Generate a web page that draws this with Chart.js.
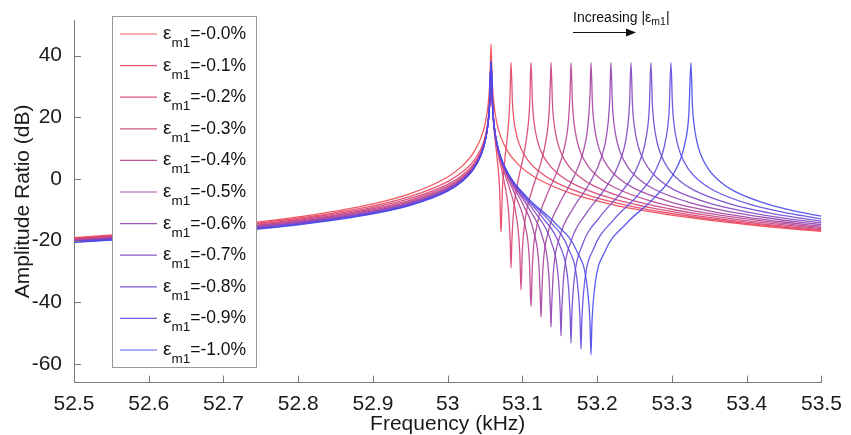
<!DOCTYPE html>
<html>
<head>
<meta charset="utf-8">
<script src="https://cdn.jsdelivr.net/npm/chart.js@4"></script>
<style>
  html, body { margin: 0; padding: 0; background: #fff; }
</style>
</head>
<body>
<canvas id="myChart" width="851" height="435"></canvas>
<script>
// Legend labels (strain ε_m1) and axis ticks
const strainLabels = ['-0.0%', '-0.1%', '-0.2%', '-0.3%', '-0.4%', '-0.5%', '-0.6%', '-0.7%', '-0.8%', '-0.9%', '-1.0%'];
const freqTicks = [52.5, 52.6, 52.7, 52.8, 52.9, 53, 53.1, 53.2, 53.3, 53.4, 53.5];
const ampTicks = [-60, -40, -20, 0, 20, 40];

// [frequency kHz, amplitude ratio dB]
const eps00 = [[52.5,-19.01],[52.6,-17.30],[52.7,-15.16],[52.8,-12.31],[52.9,-8.05],[52.95,-4.75],[53.0,0.65],[53.02,4.33],[53.035,8.69],[53.045,13.64],[53.05,17.86],[53.054,23.88],[53.056,29.9],[53.057,35.9],
  [53.058,43.8],
  [53.059,35.9],[53.06,29.9],[53.062,23.88],[53.066,17.86],[53.071,13.64],[53.081,8.69],[53.096,4.33],[53.116,0.65],[53.166,-4.75],[53.216,-8.05],[53.266,-10.44],[53.316,-12.31],[53.366,-13.85],[53.416,-15.16],[53.466,-16.29],[53.5,-16.99]];

const eps01 = [[52.5,-19.21],[52.6,-17.54],[52.7,-15.47],[52.8,-12.73],[52.9,-8.70],[52.95,-5.65],[53.0,-0.84],[53.02,2.32],[53.035,5.97],[53.045,10.08],[53.05,13.64],[53.054,18.92],[53.056,24.46],
  [53.058,38.0],
  [53.0588,31.54],[53.0601,22.51],[53.0628,14.10],[53.0666,5.73],[53.0695,-3.50],[53.0708,-14.54],[53.0714,-17.1],[53.0719,-14.54],[53.0732,-3.50],[53.0762,5.73],[53.0799,14.10],[53.0826,22.51],[53.0839,31.54],
  [53.0847,37.7],
  [53.0867,24.46],[53.0887,18.92],[53.0927,13.64],[53.0977,10.08],[53.1077,5.97],[53.1227,2.32],[53.1427,-0.84],[53.1927,-5.65],[53.2427,-8.70],[53.2927,-10.95],[53.3427,-12.73],[53.3927,-14.20],[53.4427,-15.47],[53.5,-16.71]];

const eps02 = [[52.5,-19.40],[52.6,-17.76],[52.7,-15.74],[52.8,-13.09],[52.9,-9.23],[52.95,-6.32],[53.0,-1.73],[53.02,1.32],[53.035,4.95],[53.045,9.17],[53.05,12.90],[53.054,18.44],[53.056,24.19],
  [53.058,38.0],
  [53.0585,35.25],[53.0596,25.52],[53.0623,16.49],[53.0676,8.08],[53.0751,-0.29],[53.0810,-9.52],[53.0837,-20.56],[53.0847,-28.8],[53.0858,-20.56],[53.0885,-9.52],[53.0944,-0.29],[53.1019,8.08],[53.1072,16.49],[53.1099,25.52],[53.1109,35.25],
  [53.1115,37.7],
  [53.1135,24.19],[53.1155,18.44],[53.1195,12.90],[53.1245,9.17],[53.1345,4.95],[53.1495,1.32],[53.1695,-1.73],[53.2195,-6.32],[53.2695,-9.23],[53.3195,-11.38],[53.3695,-13.09],[53.4195,-14.52],[53.4695,-15.74],[53.5,-16.41]];

const eps03 = [[52.5,-19.58],[52.6,-17.97],[52.7,-15.99],[52.8,-13.41],[52.9,-9.65],[52.95,-6.83],[53.0,-2.32],[53.02,0.73],[53.035,4.41],[53.045,8.76],[53.05,12.59],[53.054,18.26],[53.056,24.08],
  [53.058,38.0],
  [53.0588,31.73],[53.0604,22.0],[53.0644,12.97],[53.0724,4.56],[53.0837,-3.81],[53.0925,-13.04],[53.0965,-24.08],[53.0981,-36],[53.0997,-24.08],[53.1037,-13.04],[53.1126,-3.81],[53.1238,4.56],[53.1318,12.97],[53.1358,22.0],[53.1374,31.73],
  [53.1382,37.7],
  [53.1402,24.08],[53.1422,18.26],[53.1462,12.59],[53.1512,8.76],[53.1612,4.41],[53.1762,0.73],[53.1962,-2.32],[53.2462,-6.83],[53.2962,-9.65],[53.3462,-11.74],[53.3962,-13.41],[53.45,-14.89],[53.5,-16.08]];

const eps04 = [[52.5,-19.74],[52.6,-18.16],[52.7,-16.22],[52.8,-13.69],[52.9,-10.01],[52.95,-7.23],[53.0,-2.75],[53.02,0.33],[53.035,4.08],[53.045,8.51],[53.05,12.42],[53.054,18.17],[53.056,24.03],
  [53.058,38.0],
  [53.0591,29.23],[53.0612,19.5],[53.0666,10.47],[53.0773,2.06],[53.0922,-6.31],[53.1040,-15.54],[53.1093,-26.58],[53.1109,-38.64],[53.1115,-41.2],[53.1120,-38.64],[53.1136,-26.58],[53.1190,-15.54],[53.1307,-6.31],[53.1457,2.06],[53.1564,10.47],[53.1618,19.5],[53.1639,29.23],
  [53.1650,37.7],
  [53.167,24.03],[53.169,18.17],[53.173,12.42],[53.178,8.51],[53.188,4.08],[53.203,0.33],[53.223,-2.75],[53.273,-7.23],[53.323,-10.01],[53.373,-12.06],[53.423,-13.69],[53.465,-14.85],[53.5,-15.70]];

const eps05 = [[52.5,-19.89],[52.6,-18.34],[52.7,-16.43],[52.8,-13.94],[52.9,-10.31],[52.95,-7.56],[53.0,-3.07],[53.02,0.04],[53.035,3.85],[53.045,8.36],[53.05,12.32],[53.054,18.11],[53.056,24.0],
  [53.058,38.0],
  [53.0593,27.29],[53.0620,17.56],[53.0687,8.53],[53.0821,0.12],[53.1008,-8.25],[53.1155,-17.48],[53.1222,-28.52],[53.1242,-40.58],[53.1249,-44.7],[53.1255,-40.58],[53.1275,-28.52],[53.1342,-17.48],[53.1489,-8.25],[53.1676,0.12],[53.1810,8.53],[53.1877,17.56],[53.1904,27.29],
  [53.1917,37.7],
  [53.1937,24.0],[53.1957,18.11],[53.1997,12.32],[53.2047,8.36],[53.2147,3.85],[53.2297,0.04],[53.2497,-3.07],[53.2997,-7.56],[53.3497,-10.31],[53.3997,-12.33],[53.4497,-13.94],[53.5,-15.28]];

const eps06 = [[52.5,-20.04],[52.6,-18.50],[52.7,-16.62],[52.8,-14.16],[52.9,-10.57],[52.95,-7.83],[53.0,-3.32],[53.02,-0.17],[53.035,3.69],[53.045,8.25],[53.05,12.24],[53.054,18.07],[53.056,23.98],
  [53.058,38.0],
  [53.0596,25.71],[53.0628,15.98],[53.0708,6.95],[53.0869,-1.46],[53.1093,-9.83],[53.1270,-19.06],[53.1350,-30.10],[53.1374,-42.16],[53.1382,-48],[53.1390,-42.16],[53.1414,-30.10],[53.1495,-19.06],[53.1671,-9.83],[53.1896,-1.46],[53.2056,6.95],[53.2136,15.98],[53.2168,25.71],
  [53.2184,37.7],
  [53.2204,23.98],[53.2224,18.07],[53.2264,12.24],[53.2314,8.25],[53.2414,3.69],[53.2564,-0.17],[53.2764,-3.32],[53.3264,-7.83],[53.3764,-10.57],[53.4264,-12.57],[53.4764,-14.16],[53.5,-14.81]];

const eps07 = [[52.5,-20.18],[52.6,-18.66],[52.7,-16.79],[52.8,-14.36],[52.9,-10.80],[52.95,-8.06],[53.0,-3.52],[53.02,-0.34],[53.035,3.57],[53.045,8.17],[53.05,12.19],[53.054,18.04],[53.056,23.97],
  [53.058,38.0],
  [53.0599,24.37],[53.0636,14.64],[53.0730,5.61],[53.0917,-2.80],[53.1179,-11.17],[53.1385,-20.40],[53.1478,-31.44],[53.1507,-43.50],[53.1516,-50.9],[53.1525,-43.50],[53.1553,-31.44],[53.1647,-20.40],[53.1853,-11.17],[53.2115,-2.80],[53.2302,5.61],[53.2396,14.64],[53.2433,24.37],
  [53.2452,37.7],
  [53.2472,23.97],[53.2492,18.04],[53.2532,12.19],[53.2582,8.17],[53.2682,3.57],[53.2832,-0.34],[53.3032,-3.52],[53.3532,-8.06],[53.4032,-10.80],[53.45,-12.68],[53.5,-14.27]];

const eps08 = [[52.5,-20.31],[52.6,-18.80],[52.7,-16.96],[52.8,-14.54],[52.9,-11.00],[52.95,-8.25],[53.0,-3.69],[53.02,-0.47],[53.035,3.47],[53.045,8.11],[53.05,12.15],[53.054,18.02],[53.056,23.96],
  [53.058,38.0],
  [53.0601,23.21],[53.0644,13.48],[53.0751,4.45],[53.0965,-3.96],[53.1265,-12.33],[53.1500,-21.56],[53.1607,-32.60],[53.1639,-44.66],[53.1650,-53.2],[53.1660,-44.66],[53.1692,-32.60],[53.1799,-21.56],[53.2035,-12.33],[53.2334,-3.96],[53.2548,4.45],[53.2655,13.48],[53.2698,23.21],
  [53.2719,37.7],
  [53.2739,23.96],[53.2759,18.02],[53.2799,12.15],[53.2849,8.11],[53.2949,3.47],[53.3099,-0.47],[53.3299,-3.69],[53.3799,-8.25],[53.4299,-11.00],[53.465,-12.44],[53.5,-13.65]];

const eps09 = [[52.5,-20.43],[52.6,-18.94],[52.7,-17.11],[52.8,-14.71],[52.9,-11.17],[52.95,-8.42],[53.0,-3.83],[53.02,-0.58],[53.035,3.39],[53.045,8.05],[53.05,12.11],[53.054,18.0],[53.056,23.95],
  [53.058,38.0],
  [53.0604,22.19],[53.0652,12.46],[53.0773,3.43],[53.1013,-4.98],[53.1350,-13.35],[53.1615,-22.58],[53.1735,-33.62],[53.1771,-45.68],[53.1783,-55.1],[53.1795,-45.68],[53.1831,-33.62],[53.1952,-22.58],[53.2216,-13.35],[53.2553,-4.98],[53.2794,3.43],[53.2914,12.46],[53.2963,22.19],
  [53.2987,37.7],
  [53.3007,23.95],[53.3027,18.0],[53.3067,12.11],[53.3117,8.05],[53.3217,3.39],[53.3367,-0.58],[53.3567,-3.83],[53.4067,-8.42],[53.4567,-11.17],[53.5,-12.92]];

const eps10 = [[52.5,-20.55],[52.6,-19.07],[52.7,-17.25],[52.8,-14.86],[52.9,-11.33],[52.95,-8.57],[53.0,-3.94],[53.02,-0.68],[53.035,3.33],[53.045,8.01],[53.05,12.09],[53.054,17.99],[53.056,23.95],
  [53.058,38.0],
  [53.0607,21.27],[53.0660,11.54],[53.0794,2.51],[53.1061,-5.90],[53.1436,-14.27],[53.1730,-23.50],[53.1864,-34.54],[53.1904,-46.60],[53.1917,-57],[53.1930,-46.60],[53.1970,-34.54],[53.2104,-23.50],[53.2398,-14.27],[53.2773,-5.90],[53.3040,2.51],[53.3174,11.54],[53.3227,21.27],
  [53.3254,37.7],
  [53.3274,23.95],[53.3294,17.99],[53.3334,12.09],[53.3384,8.01],[53.3484,3.33],[53.3634,-0.68],[53.3834,-3.94],[53.4334,-8.57],[53.4834,-11.33],[53.5,-12.05]];

const allSeries = [eps00, eps01, eps02, eps03, eps04, eps05, eps06, eps07, eps08, eps09, eps10];

// red -> purple -> blue
const lineColors = [
  'rgba(242,70,78,0.9)', 'rgba(230,68,100,0.9)', 'rgba(216,66,114,0.9)', 'rgba(202,66,128,0.9)',
  'rgba(184,66,144,0.9)', 'rgba(166,66,160,0.9)', 'rgba(148,68,176,0.9)', 'rgba(130,70,192,0.9)',
  'rgba(112,72,208,0.9)', 'rgba(94,74,224,0.9)', 'rgba(72,72,240,0.9)'
];

const FONT = '"Liberation Sans", Arial, Helvetica, sans-serif';
Chart.defaults.font.family = FONT;

// tick marks inside the axes, legend box and the arrow note
const decorPlugin = {
  id: 'decor',
  afterDraw(chart) {
    const { ctx, chartArea, scales: { x, y } } = chart;
    ctx.save();

    ctx.strokeStyle = '#7a7a7a';
    ctx.lineWidth = 1;
    ctx.beginPath();
    freqTicks.forEach(v => {
      const px = Math.round(x.getPixelForValue(v)) + 0.5;
      ctx.moveTo(px, chartArea.bottom);
      ctx.lineTo(px, chartArea.bottom - 7);
    });
    ampTicks.forEach(v => {
      const py = Math.round(y.getPixelForValue(v)) + 0.5;
      ctx.moveTo(chartArea.left, py);
      ctx.lineTo(chartArea.left + 7, py);
    });
    ctx.stroke();

    // legend
    ctx.fillStyle = '#fff';
    ctx.fillRect(112.5, 16.5, 144, 351);
    ctx.strokeStyle = '#999';
    ctx.strokeRect(112.5, 16.5, 144, 351);
    ctx.textBaseline = 'alphabetic';
    strainLabels.forEach((lab, i) => {
      const cy = 34 + 31.6 * i;
      ctx.strokeStyle = lineColors[i];
      ctx.lineWidth = 1.2;
      ctx.beginPath();
      ctx.moveTo(120, cy);
      ctx.lineTo(157, cy);
      ctx.stroke();
      ctx.fillStyle = '#111';
      let tx = 163;
      ctx.font = '19px ' + FONT;
      ctx.fillText('ε', tx, cy + 5);
      tx += ctx.measureText('ε').width;
      ctx.font = '13.5px ' + FONT;
      ctx.fillText('m1', tx, cy + 13);
      tx += ctx.measureText('m1').width;
      ctx.font = '17.5px ' + FONT;
      ctx.fillText('=' + lab, tx, cy + 5);
    });

    // "Increasing |εm1|" with arrow
    ctx.fillStyle = '#111';
    let ax = 573;
    ctx.font = '14px ' + FONT;
    ctx.fillText('Increasing |ε', ax, 21.5);
    ax += ctx.measureText('Increasing |ε').width;
    ctx.font = '10.5px ' + FONT;
    ctx.fillText('m1', ax, 24.5);
    ax += ctx.measureText('m1').width;
    ctx.font = '14px ' + FONT;
    ctx.fillText('|', ax, 21.5);

    ctx.strokeStyle = '#111';
    ctx.lineWidth = 1.2;
    ctx.beginPath();
    ctx.moveTo(573, 32.5);
    ctx.lineTo(628, 32.5);
    ctx.stroke();
    ctx.beginPath();
    ctx.moveTo(636, 32.5);
    ctx.lineTo(626, 28.5);
    ctx.lineTo(626, 36.5);
    ctx.closePath();
    ctx.fill();

    ctx.restore();
  }
};

const ctx = document.getElementById('myChart').getContext('2d');
new Chart(ctx, {
  type: 'line',
  data: {
    datasets: allSeries.map((pts, i) => ({
      label: strainLabels[i],
      data: pts.map(p => ({ x: p[0], y: p[1] })),
      borderColor: lineColors[i],
      borderWidth: 1.3,
      pointRadius: 0,
      fill: false,
      cubicInterpolationMode: 'monotone',
      order: 10 - i
    }))
  },
  options: {
    responsive: false,
    animation: false,
    devicePixelRatio: 1,
    layout: { padding: { left: 0, right: 29.6, top: 20.1, bottom: 0 } },
    plugins: { legend: { display: false }, tooltip: { enabled: false } },
    scales: {
      x: {
        type: 'linear',
        min: 52.5,
        max: 53.5,
        afterBuildTicks: s => { s.ticks = freqTicks.map(v => ({ value: v })); },
        afterFit: s => { s.height = 52.4; },
        grid: { display: false },
        border: { display: true, color: '#7a7a7a', width: 1 },
        ticks: { color: '#1a1a1a', font: { size: 21 }, padding: 1, maxRotation: 0, callback: v => String(v) },
        title: { display: true, text: 'Frequency (kHz)', color: '#1a1a1a', font: { size: 21, lineHeight: 1 }, padding: { top: 0, bottom: 0 } }
      },
      y: {
        min: -66,
        max: 51.5,
        afterBuildTicks: s => { s.ticks = ampTicks.map(v => ({ value: v })); },
        afterFit: s => { s.width = 74; },
        grid: { display: false },
        border: { display: true, color: '#7a7a7a', width: 1 },
        ticks: { color: '#1a1a1a', font: { size: 21 }, padding: 4, callback: v => String(v) },
        title: { display: true, text: 'Amplitude Ratio (dB)', color: '#1a1a1a', font: { size: 21, lineHeight: 1 }, padding: { top: 12.5, bottom: 0 } }
      }
    }
  },
  plugins: [decorPlugin]
});
</script>
</body>
</html>
